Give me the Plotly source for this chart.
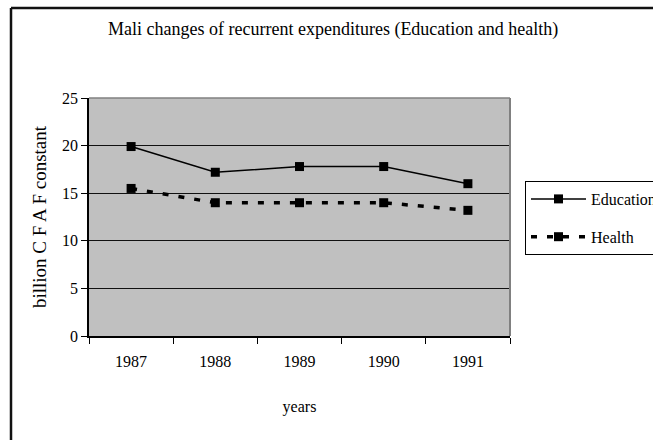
import plotly.graph_objects as go

years = ["1987", "1988", "1989", "1990", "1991"]
education = [19.9, 17.2, 17.8, 17.8, 16.0]
health = [15.5, 14.0, 14.0, 14.0, 13.2]
y_ticks = [0, 5, 10, 15, 20, 25]

W, H = 653, 440
L, R, T, B = 89, 510, 98, 336
pw, ph = R - L, B - T

def px(x):
    return (x - L) / pw

def py(y):
    return (B - y) / ph

font = "Liberation Serif, Times New Roman, serif"

fig = go.Figure()
fig.add_trace(go.Scatter(
    x=years, y=education, name="Education", mode="lines+markers",
    legendgroup="edu",
    line=dict(color="black", width=1.5),
    marker=dict(symbol="square", size=9, color="black"),
))
fig.add_trace(go.Scatter(
    x=years, y=health, name="Health", mode="lines+markers",
    legendgroup="health",
    line=dict(color="black", width=3.5, dash="6px,10px"),
    marker=dict(symbol="square", size=9, color="black"),
))

fig.update_layout(
    width=W, height=H,
    margin=dict(l=L, r=W - R, t=T, b=H - B, autoexpand=False),
    paper_bgcolor="white",
    plot_bgcolor="#c0c0c0",
    font=dict(family=font, size=16, color="black"),
    showlegend=True,
    legend=dict(
        x=px(525), y=py(181), xanchor="left", yanchor="top",
        bordercolor="black", borderwidth=1, bgcolor="white",
        font=dict(family=font, size=16, color="black"),
        itemwidth=55, tracegroupgap=14,
    ),
    xaxis=dict(
        type="category", range=[-0.5, 4.5], automargin=False,
        tickson="boundaries", ticks="outside", ticklen=6, tickcolor="black",
        ticklabelstandoff=10,
        showline=True, linecolor="black", linewidth=1.5,
        showgrid=False, zeroline=False,
        tickfont=dict(family=font, size=16),
        title=dict(text="years", font=dict(family=font, size=16), standoff=32),
    ),
    yaxis=dict(
        range=[0, 25], tickvals=y_ticks, automargin=False,
        ticks="outside", ticklen=6, tickcolor="black",
        showline=True, linecolor="black", linewidth=1.5,
        showgrid=True, gridcolor="#111111", gridwidth=1,
        zeroline=False,
        tickfont=dict(family=font, size=16),
        title=dict(text="billion C F A F constant", font=dict(family=font, size=19), standoff=10),
    ),
    shapes=[
        dict(type="line", xref="paper", yref="paper", x0=0, x1=1, y0=1, y1=1,
             line=dict(color="#808080", width=1.5)),
        dict(type="line", xref="paper", yref="paper", x0=1, x1=1, y0=0, y1=1,
             line=dict(color="#808080", width=2)),
        dict(type="line", xref="paper", yref="paper",
             x0=px(11), x1=px(660), y0=py(8), y1=py(8),
             line=dict(color="#111111", width=2.5), layer="above"),
        dict(type="line", xref="paper", yref="paper",
             x0=px(11), x1=px(11), y0=py(8), y1=py(460),
             line=dict(color="#111111", width=2.5), layer="above"),
    ],
    annotations=[
        dict(text="Mali changes of recurrent expenditures (Education and health)",
             xref="paper", yref="paper", x=px(333), y=py(30),
             xanchor="center", yanchor="middle", showarrow=False,
             font=dict(family=font, size=18, color="black")),
    ],
)

fig.write_html("out.html", config={"displayModeBar": False},
               post_script="document.body.style.margin='0';")
